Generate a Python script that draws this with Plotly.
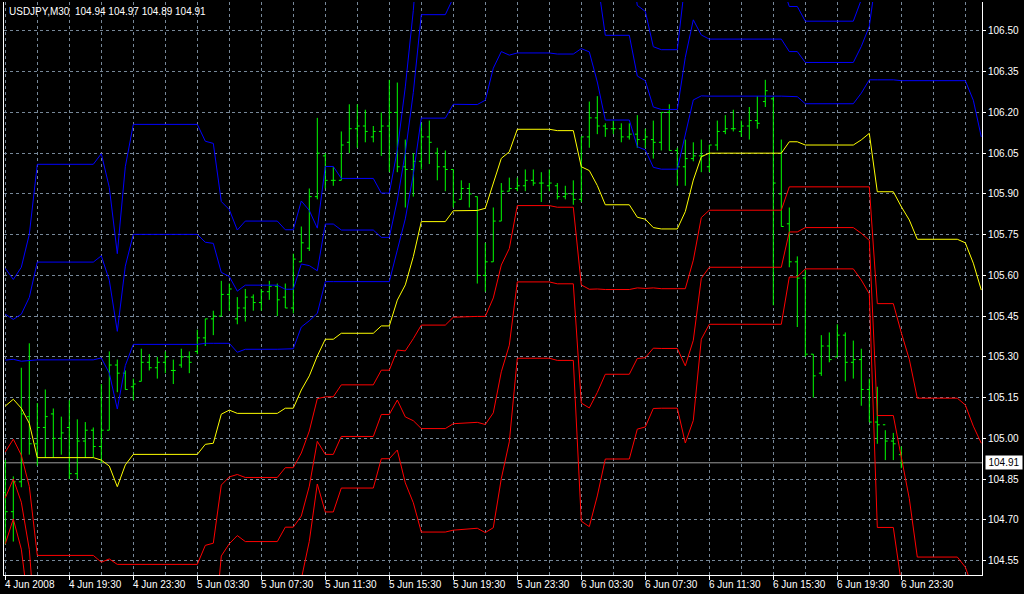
import plotly.graph_objects as go

# ---------------- data ----------------
bar_idx = list(range(113))  # 30-minute bars, 0 = 4 Jun 2008 15:30

opens = [104.80, 104.73, 104.84, 105.08, 104.98, 105.04, 105.09, 105.00, 105.04, 104.87,
         104.99, 105.03, 104.97, 105.03, 105.27, 105.24, 105.19, 105.21, 105.28, 105.26,
         105.28, 105.25, 105.27, 105.30, 105.32, 105.37, 105.44, 105.45, 105.53, 105.44,
         105.48, 105.52, 105.50, 105.54, 105.56, 105.52, 105.48, 105.65, 105.70, 105.89,
         106.04, 105.95, 105.95, 106.09, 106.14, 106.15, 106.11, 106.13, 106.15, 106.20,
         106.00, 105.99, 106.02, 106.11, 106.05, 106.00, 105.99, 105.88, 105.92, 105.89,
         105.60, 105.65, 105.80, 105.91, 105.92, 105.93, 105.95, 105.94, 105.93, 105.93,
         105.89, 105.90, 105.88, 106.11, 106.18, 106.15, 106.14, 106.14, 106.11, 106.12,
         106.10, 106.10, 106.09, 106.20, 106.06, 106.00, 106.03, 106.04, 106.00, 106.08,
         106.13, 106.14, 106.13, 106.15, 106.17, 106.24, 106.25, 105.90, 105.79, 105.65,
         105.59, 105.31, 105.24, 105.34, 105.30, 105.38, 105.28, 105.29, 105.18, 105.06,
         105.05, 104.99, 104.94]
highs = [104.92, 104.86, 105.26, 105.35, 105.13, 105.18, 105.11, 105.08, 105.14, 105.07,
         105.06, 105.04, 105.20, 105.32, 105.29, 105.25, 105.22, 105.33, 105.31, 105.30,
         105.32, 105.29, 105.33, 105.32, 105.40, 105.44, 105.47, 105.58, 105.57, 105.52,
         105.55, 105.53, 105.55, 105.58, 105.57, 105.57, 105.68, 105.78, 105.92, 106.18,
         106.05, 106.00, 106.13, 106.23, 106.23, 106.21, 106.15, 106.20, 106.32, 106.31,
         106.10, 106.05, 106.16, 106.17, 106.07, 106.06, 105.99, 105.95, 105.94, 105.89,
         105.72, 105.85, 105.94, 105.96, 105.96, 105.99, 105.99, 105.98, 105.99, 105.94,
         105.93, 105.95, 106.11, 106.24, 106.26, 106.16, 106.17, 106.16, 106.16, 106.19,
         106.14, 106.17, 106.20, 106.23, 106.07, 106.10, 106.09, 106.10, 106.08, 106.17,
         106.19, 106.21, 106.17, 106.22, 106.26, 106.32, 106.26, 106.10, 105.85, 105.67,
         105.62, 105.31, 105.38, 105.39, 105.42, 105.39, 105.36, 105.33, 105.22, 105.19,
         105.03, 105.02, 104.97]
lows = [104.61, 104.62, 104.82, 104.94, 104.90, 104.93, 104.93, 104.94, 104.85, 104.85,
        104.93, 104.93, 104.91, 105.03, 105.17, 105.18, 105.14, 105.21, 105.25, 105.22,
        105.24, 105.20, 105.26, 105.24, 105.31, 105.34, 105.38, 105.45, 105.47, 105.42,
        105.43, 105.47, 105.47, 105.51, 105.45, 105.48, 105.46, 105.65, 105.69, 105.88,
        105.92, 105.93, 105.95, 106.05, 106.07, 106.09, 106.09, 106.04, 105.98, 105.98,
        105.85, 105.89, 105.99, 106.01, 105.95, 105.91, 105.85, 105.88, 105.85, 105.57,
        105.54, 105.65, 105.80, 105.91, 105.91, 105.91, 105.93, 105.87, 105.91, 105.88,
        105.88, 105.86, 105.87, 106.07, 106.12, 106.11, 106.12, 106.09, 106.10, 106.07,
        106.07, 106.03, 106.06, 106.06, 105.93, 105.93, 106.02, 105.98, 105.98, 106.06,
        106.12, 106.13, 106.11, 106.10, 106.14, 106.22, 105.49, 105.78, 105.63, 105.41,
        105.30, 105.15, 105.23, 105.28, 105.30, 105.21, 105.22, 105.12, 105.06, 104.98,
        104.92, 104.92, 104.89]
closes = [104.73, 104.84, 105.09, 104.98, 105.04, 105.08, 105.00, 105.02, 104.87, 104.99,
          105.03, 104.97, 105.03, 105.27, 105.24, 105.18, 105.20, 105.28, 105.26, 105.28,
          105.30, 105.25, 105.30, 105.28, 105.37, 105.44, 105.45, 105.53, 105.55, 105.48,
          105.52, 105.50, 105.54, 105.56, 105.51, 105.48, 105.66, 105.72, 105.89, 106.05,
          105.95, 105.95, 106.08, 106.14, 106.15, 106.13, 106.13, 106.15, 106.20, 106.00,
          105.99, 106.02, 106.11, 106.09, 106.00, 105.99, 105.87, 105.92, 105.90, 105.60,
          105.65, 105.80, 105.91, 105.92, 105.93, 105.95, 105.94, 105.94, 105.94, 105.89,
          105.90, 105.88, 106.11, 106.18, 106.15, 106.14, 106.14, 106.11, 106.12, 106.10,
          106.11, 106.09, 106.20, 106.06, 106.00, 106.03, 106.04, 106.04, 106.08, 106.13,
          106.14, 106.14, 106.15, 106.17, 106.16, 106.28, 105.94, 105.78, 105.65, 105.59,
          105.31, 105.23, 105.34, 105.29, 105.38, 105.28, 105.29, 105.18, 105.06, 105.05,
          104.99, 104.98, 104.91]

# indicator: middle line and the equal spacing between its seven levels (vertices)
band_idx = [0, 1, 2, 3, 4, 11, 12, 13, 14, 15, 16, 24, 25, 26, 27, 28, 29, 30, 34, 35,
            36, 37, 38, 39, 40, 41, 42, 46, 47, 48, 49, 50, 51, 52, 55, 56, 59, 60, 61, 62,
            63, 64, 68, 69, 71, 72, 73, 74, 75, 78, 79, 80, 81, 82, 84, 85, 86, 87, 88, 97,
            98, 99, 100, 106, 107, 108, 109, 111, 112, 113, 114, 119, 120, 121, 122]
mid_price = [105.119, 105.144, 105.111, 105.055, 104.929, 104.929, 104.920, 104.898, 104.822, 104.902,
             104.941, 104.941, 104.978, 104.982, 105.089, 105.104, 105.092, 105.092, 105.092, 105.111,
             105.111, 105.178, 105.230, 105.303, 105.365, 105.365, 105.387, 105.387, 105.414, 105.414,
             105.509, 105.565, 105.669, 105.798, 105.798, 105.838, 105.839, 105.847, 105.940, 106.031,
             106.055, 106.138, 106.138, 106.133, 106.133, 106.000, 105.986, 105.931, 105.860, 105.860,
             105.814, 105.807, 105.776, 105.771, 105.771, 105.835, 105.951, 106.037, 106.050, 106.050,
             106.092, 106.092, 106.080, 106.080, 106.099, 106.123, 105.908, 105.908, 105.853, 105.804,
             105.733, 105.733, 105.720, 105.645, 105.546]
band_step = [0.169, 0.147, 0.173, 0.232, 0.360, 0.360, 0.376, 0.342, 0.286, 0.366,
             0.405, 0.405, 0.372, 0.368, 0.261, 0.246, 0.225, 0.236, 0.236, 0.219,
             0.219, 0.232, 0.203, 0.157, 0.212, 0.212, 0.190, 0.190, 0.163, 0.163,
             0.184, 0.243, 0.302, 0.381, 0.381, 0.392, 0.390, 0.398, 0.423, 0.393,
             0.356, 0.281, 0.281, 0.282, 0.282, 0.435, 0.437, 0.381, 0.312, 0.312,
             0.260, 0.255, 0.222, 0.220, 0.220, 0.284, 0.295, 0.224, 0.210, 0.210,
             0.166, 0.166, 0.152, 0.152, 0.172, 0.197, 0.412, 0.412, 0.464, 0.513,
             0.585, 0.585, 0.597, 0.600, 0.564]
level_mult = [3, 2, 1, 0, -1, -2, -3]
level_color = ["#0000ff", "#0000ff", "#0000ff", "#ffff00", "#ff0000", "#ff0000", "#ff0000"]

x_label_idx = [0, 8, 16, 24, 32, 40, 48, 56, 64, 72, 80, 88, 96, 104, 112]
x_label_text = ["4 Jun 2008", "4 Jun 19:30", "4 Jun 23:30", "5 Jun 03:30", "5 Jun 07:30",
                "5 Jun 11:30", "5 Jun 15:30", "5 Jun 19:30", "5 Jun 23:30", "6 Jun 03:30",
                "6 Jun 07:30", "6 Jun 11:30", "6 Jun 15:30", "6 Jun 19:30", "6 Jun 23:30"]

# ---------------- figure ----------------
FONT = "Liberation Sans"
GRID = "#778899"

fig = go.Figure()
fig.add_trace(go.Ohlc(
    x=bar_idx, open=opens, high=highs, low=lows, close=closes,
    increasing=dict(line=dict(color="#00ff00", width=1)),
    decreasing=dict(line=dict(color="#00ff00", width=1)),
    tickwidth=0.3, hoverinfo="skip", showlegend=False))

for k, col in zip(level_mult, level_color):
    fig.add_trace(go.Scatter(
        x=band_idx, y=[m + k * s for m, s in zip(mid_price, band_step)],
        mode="lines", line=dict(color=col, width=1), hoverinfo="skip", showlegend=False))

last_close = closes[-1]
fig.add_shape(type="line", xref="paper", x0=0, x1=1, yref="y", y0=last_close, y1=last_close,
              line=dict(color="#9a9a9a", width=1), layer="below")

for i, t in zip(x_label_idx, x_label_text):
    fig.add_annotation(x=i, xref="x", y=0, yref="paper", text=t, showarrow=False,
                       xanchor="left", yanchor="top", xshift=-2, yshift=-2,
                       font=dict(family=FONT, size=10, color="white"))

fig.add_annotation(x=0, xref="paper", y=1, yref="paper", xanchor="left", yanchor="top",
                   xshift=3, yshift=-2, showarrow=False,
                   text="USDJPY,M30\u00a0\u00a0%.2f %.2f %.2f %.2f" % (opens[-1], highs[-1], lows[-1], closes[-1]),
                   font=dict(family=FONT, size=10, color="white"))

fig.add_annotation(x=1, xref="paper", y=last_close, yref="y", xanchor="left", yanchor="middle",
                   xshift=3, showarrow=False, text="%.2f" % last_close,
                   bgcolor="white", borderpad=1, width=34,
                   font=dict(family=FONT, size=10, color="black"))

fig.update_layout(
    width=1024, height=594,
    margin=dict(l=4, r=42, t=2, b=19),
    paper_bgcolor="black", plot_bgcolor="black",
    showlegend=False,
    xaxis=dict(range=[-0.1625, 122.0875], tickmode="array", tickvals=x_label_idx,
               showticklabels=False, ticks="outside", ticklen=4, tickcolor="white",
               showgrid=True, gridcolor=GRID, griddash="3px,3px", gridwidth=1,
               minor=dict(dtick=4, tick0=0, showgrid=True, gridcolor=GRID,
                          griddash="3px,3px", gridwidth=1, ticks=""),
               showline=True, linecolor="white", linewidth=1, zeroline=False,
               rangeslider=dict(visible=False), fixedrange=True),
    yaxis=dict(side="right", range=[104.4969, 106.6066], tick0=104.55, dtick=0.15,
               tickformat=".2f", ticks="outside", ticklen=3, tickcolor="white",
               tickfont=dict(family=FONT, size=10, color="white"),
               showgrid=True, gridcolor=GRID, griddash="3px,3px", gridwidth=1,
               showline=True, linecolor="white", linewidth=1, mirror=True,
               zeroline=False, fixedrange=True),
)

fig.write_html("out.html", config={"displayModeBar": False},
               post_script="document.body.style.margin='0';document.body.style.overflow='hidden';document.body.style.background='black';")
